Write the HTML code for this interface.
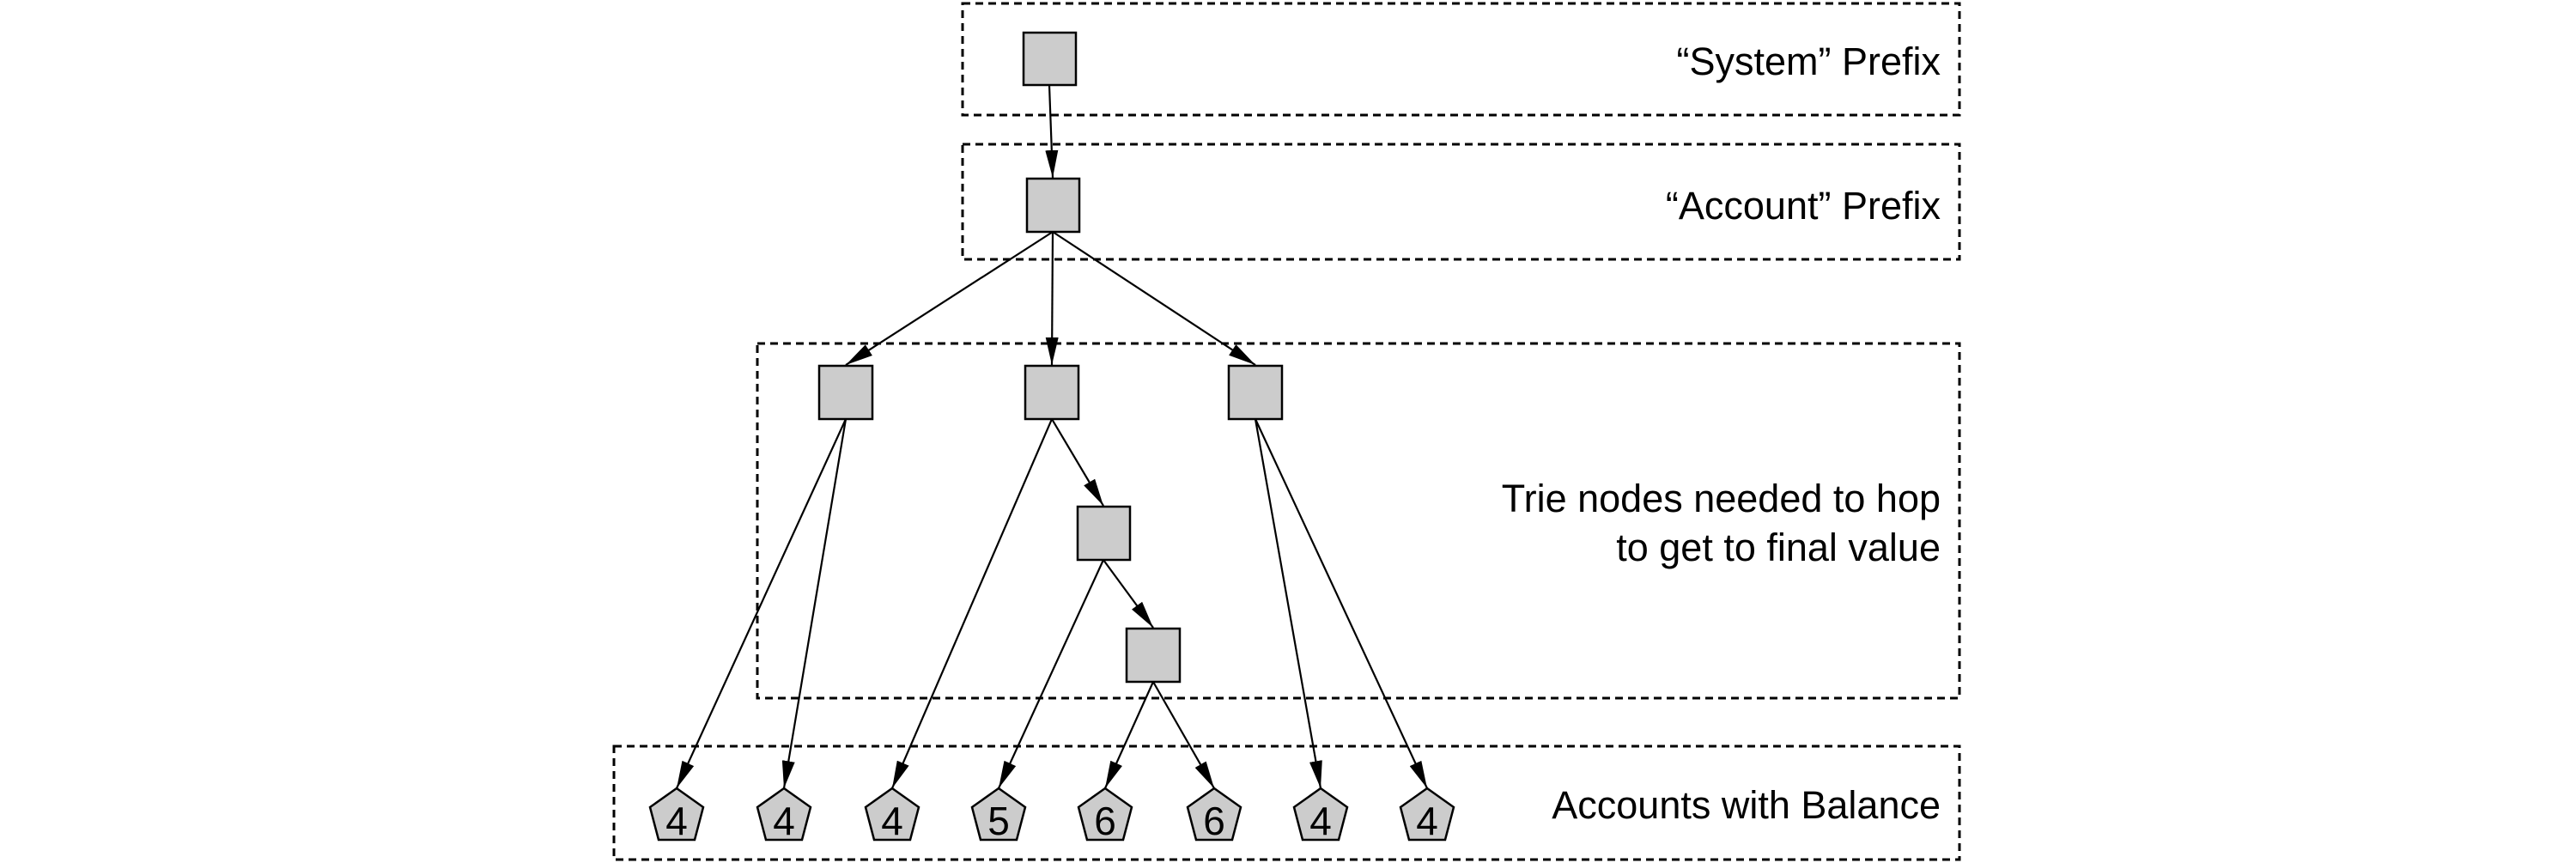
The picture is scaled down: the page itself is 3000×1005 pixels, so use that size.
<!DOCTYPE html>
<html><head><style>body{margin:0;background:#fff}svg{display:block}</style></head><body>
<svg width="3000" height="1005" xmlns="http://www.w3.org/2000/svg" font-family="'Liberation Sans', sans-serif">
<defs>
<marker id="b" viewBox="0 0 10 10" refX="10" refY="5" markerWidth="32" markerHeight="15" orient="auto" markerUnits="userSpaceOnUse" preserveAspectRatio="none"><path d="M0,0 L10,5 L0,10 z" fill="#000"/></marker></defs>
<g fill="none" stroke="#000" stroke-width="3" stroke-dasharray="9,6">
<rect x="1121" y="4" width="1161" height="130"/>
<rect x="1121" y="168" width="1161" height="134"/>
<rect x="882" y="400" width="1400" height="413"/>
<rect x="715" y="869" width="1567" height="132"/>
</g>
<g stroke="#000" stroke-width="2.2" marker-end="url(#b)">
<line x1="1222" y1="99" x2="1226" y2="207"/>
<line x1="1226" y1="270" x2="985" y2="425"/>
<line x1="1226" y1="270" x2="1225" y2="425"/>
<line x1="1226" y1="270" x2="1462" y2="425"/>
<line x1="985" y1="488" x2="788" y2="918"/>
<line x1="985" y1="488" x2="913" y2="918"/>
<line x1="1225" y1="488" x2="1039" y2="918"/>
<line x1="1225" y1="488" x2="1285" y2="589"/>
<line x1="1285" y1="652" x2="1163" y2="918"/>
<line x1="1285" y1="652" x2="1343" y2="731"/>
<line x1="1343" y1="794" x2="1287" y2="918"/>
<line x1="1343" y1="794" x2="1414" y2="918"/>
<line x1="1462" y1="488" x2="1538" y2="918"/>
<line x1="1462" y1="488" x2="1662" y2="918"/>
</g>
<g fill="#ccc" stroke="#000" stroke-width="2.5">
<rect x="1192" y="38" width="61" height="61"/>
<rect x="1196" y="208" width="61" height="62"/>
<rect x="954" y="426" width="62" height="62"/>
<rect x="1194" y="426" width="62" height="62"/>
<rect x="1431" y="426" width="62" height="62"/>
<rect x="1255" y="590" width="61" height="62"/>
<rect x="1312" y="732" width="62" height="62"/>
</g>
<g fill="#ccc" stroke="#000" stroke-width="2.5">
<polygon points="788,918 819,940 809,978 767,978 757,940"/>
<polygon points="913,918 944,940 934,978 892,978 882,940"/>
<polygon points="1039,918 1070,940 1060,978 1018,978 1008,940"/>
<polygon points="1163,918 1194,940 1184,978 1142,978 1132,940"/>
<polygon points="1287,918 1318,940 1308,978 1266,978 1256,940"/>
<polygon points="1414,918 1445,940 1435,978 1393,978 1383,940"/>
<polygon points="1538,918 1569,940 1559,978 1517,978 1507,940"/>
<polygon points="1662,918 1693,940 1683,978 1641,978 1631,940"/>
</g>
<g font-size="46" text-anchor="middle" fill="#000">
<text x="788" y="972">4</text><text x="913" y="972">4</text><text x="1039" y="972">4</text><text x="1163" y="972">5</text>
<text x="1287" y="972">6</text><text x="1414" y="972">6</text><text x="1538" y="972">4</text><text x="1662" y="972">4</text>
</g>
<g font-size="45" text-anchor="end" fill="#000">
<text x="2260" y="87">“System” Prefix</text>
<text x="2260" y="255">“Account” Prefix</text>
<text x="2260" y="596">Trie nodes needed to hop</text>
<text x="2260" y="653">to get to final value</text>
<text x="2260" y="953">Accounts with Balance</text>
</g>
</svg>
</body></html>
